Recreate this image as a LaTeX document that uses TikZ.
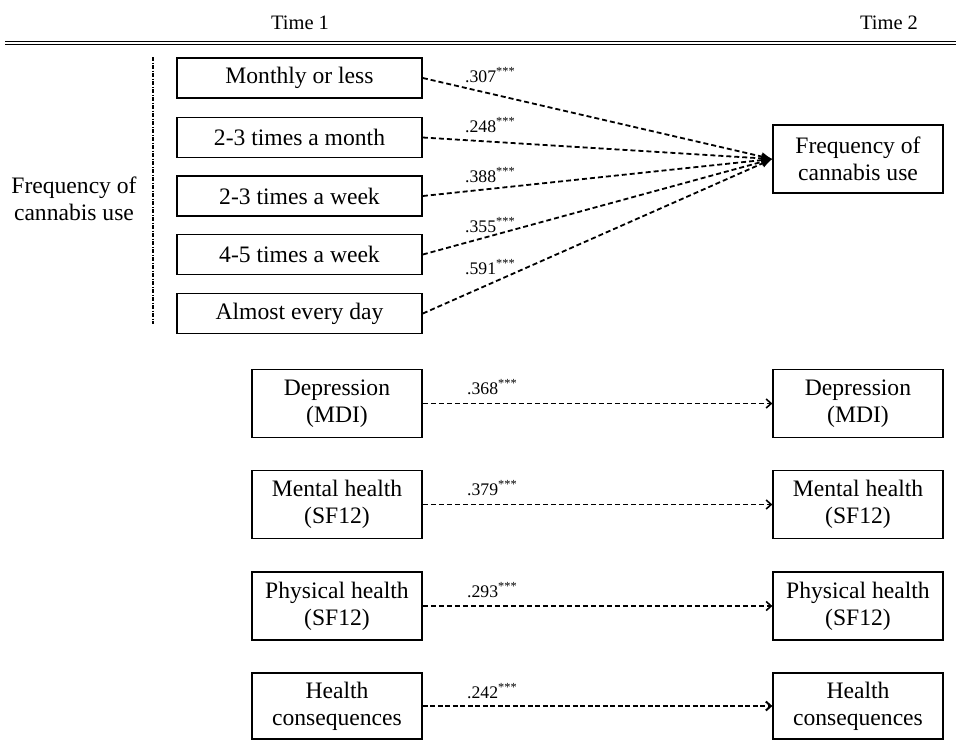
\documentclass[tikz,border=0pt]{standalone}
\usepackage{fontspec}
\setmainfont{Liberation Serif}
\usetikzlibrary{arrows.meta}
\begin{document}
\begin{tikzpicture}[x=1pt,y=-1pt,
  boxtext/.style={font=\fontsize{23.6}{27}\selectfont, align=center},
  catbox/.style={boxtext, draw, line width=1.7pt, minimum width=245pt, minimum height=40pt, inner sep=0pt},
  leftbox/.style={boxtext, draw, line width=1.7pt, minimum width=170pt, minimum height=68pt, inner sep=0pt},
  rightbox/.style={boxtext, draw, line width=1.3pt, minimum width=170pt, minimum height=68pt, inner sep=0pt},
  coef/.style={font=\fontsize{17.7}{20}\selectfont, anchor=west, inner sep=0pt},
  head/.style={font=\fontsize{20.5}{24}\selectfont},
  fan/.style={line width=1.8pt, dash pattern=on 5pt off 3pt, -{Latex[length=11pt,width=9pt]}},
  path/.style={line width=1.1pt, dash pattern=on 5pt off 3pt, -{Straight Barb[length=5pt,width=9pt,line width=1.6pt]}},
  pathbold/.style={line width=2pt, dash pattern=on 5pt off 2.5pt, -{Straight Barb[length=5pt,width=9pt,line width=2pt]}}
]
\useasboundingbox (0,0) rectangle (956,740);

% headers
\node[head] (t1) at (300,23) {Time 1};
\node[head] (t2) at (889,23) {Time 2};
\coordinate (r1a) at (5,41); \coordinate (r1b) at (956,41);
\coordinate (r2a) at (5,44.5); \coordinate (r2b) at (956,44.5);
\draw[line width=1pt] (r1a) -- (r1b);
\draw[line width=1pt] (r2a) -- (r2b);

% left label and bracket
\node[boxtext] (freqlab) at (74,199) {Frequency of\\cannabis use};
\coordinate (vt) at (153,57); \coordinate (vb) at (153,324);
\draw[line width=1.5pt, dash pattern=on 4pt off 1.5pt on 1pt off 1.5pt] (vt) -- (vb);

% category boxes
\node[catbox] (c1) at (299.5,78) {Monthly or less};
\node[catbox] (c2) at (299.5,137.5) {2-3 times a month};
\node[catbox] (c3) at (299.5,196) {2-3 times a week};
\node[catbox] (c4) at (299.5,254.5) {4-5 times a week};
\node[catbox] (c5) at (299.5,313.5) {Almost every day};

\node[rightbox, minimum height=68pt] (f2) at (858,159) {Frequency of\\cannabis use};

\foreach \i in {1,...,5} \draw[fan] (c\i.east) -- (f2.west);

\node[coef] (k1) at (465,75) {.307\textsuperscript{***}};
\node[coef] (k2) at (465,125) {.248\textsuperscript{***}};
\node[coef] (k3) at (465,175) {.388\textsuperscript{***}};
\node[coef] (k4) at (465,225) {.355\textsuperscript{***}};
\node[coef] (k5) at (465,267) {.591\textsuperscript{***}};

% lower variables
\node[leftbox] (d1) at (337,403.5) {Depression\\(MDI)};
\node[rightbox] (d2) at (858,403.5) {Depression\\(MDI)};
\node[leftbox] (m1) at (337,504.5) {Mental health\\(SF12)};
\node[rightbox] (m2) at (858,504.5) {Mental health\\(SF12)};
\node[leftbox] (p1) at (337,606) {Physical health\\(SF12)};
\node[rightbox] (p2) at (858,606) {Physical health\\(SF12)};
\node[leftbox, minimum height=66pt] (h1) at (337,706) {Health\\consequences};
\node[rightbox, minimum height=66pt] (h2) at (858,706) {Health\\consequences};

\draw[path] (d1) -- (d2);
\draw[path] (m1) -- (m2);
\draw[path] (p1) -- (p2);
\draw[pathbold] (h1) -- (h2);

\node[coef] (k6) at (467,387) {.368\textsuperscript{***}};
\node[coef] (k7) at (467,488) {.379\textsuperscript{***}};
\node[coef] (k8) at (467,590) {.293\textsuperscript{***}};
\node[coef] (k9) at (467,691) {.242\textsuperscript{***}};
\end{tikzpicture}
\end{document}
